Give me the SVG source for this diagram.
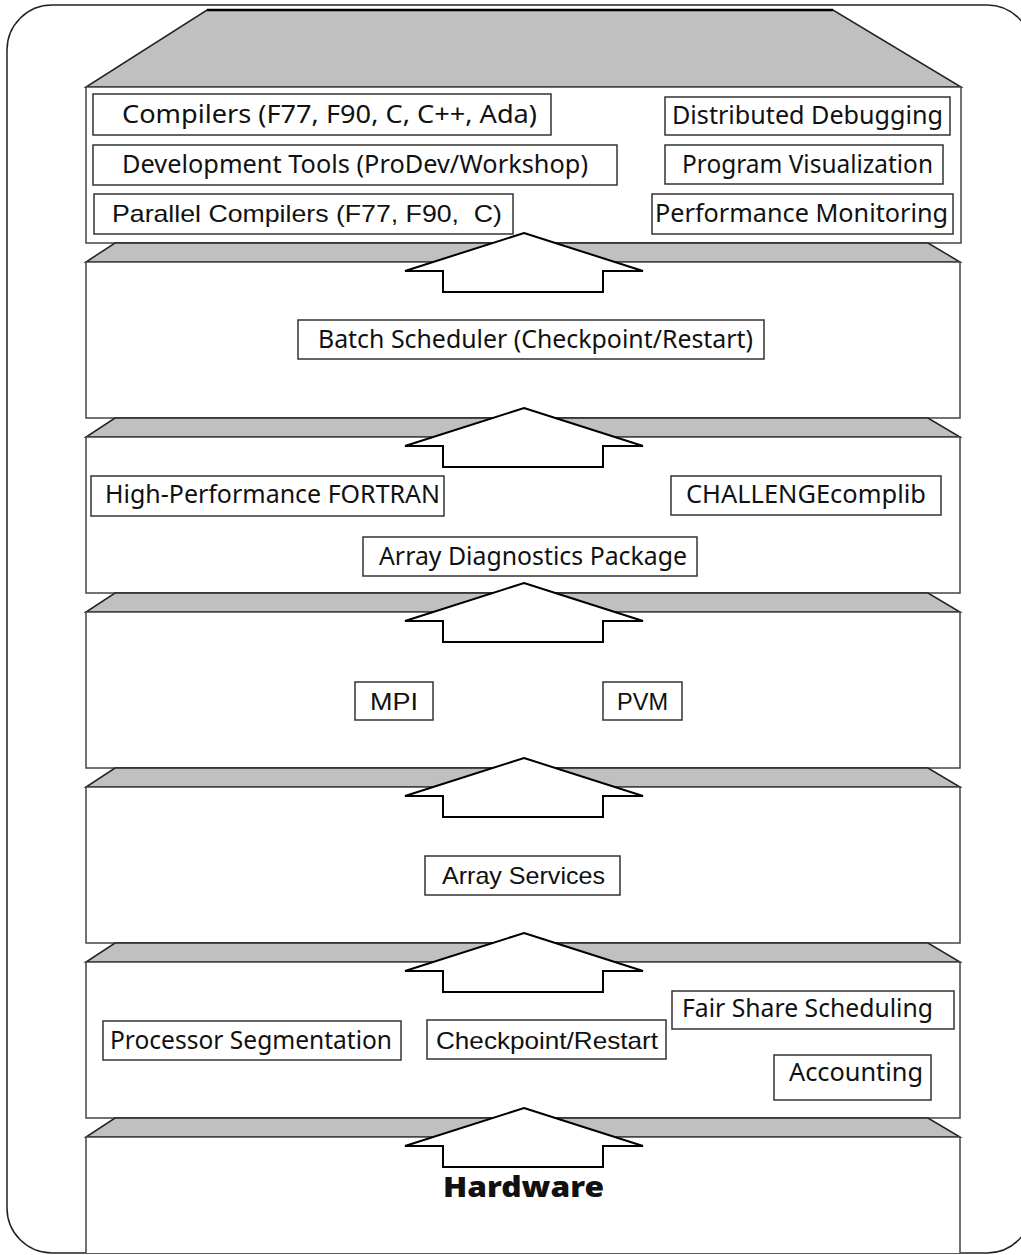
<svg xmlns="http://www.w3.org/2000/svg" width="1021" height="1255" viewBox="0 0 1021 1255">
  <style>
    .frame { fill: #ffffff; stroke: #222222; stroke-width: 1.5; }
    .band { fill: #c0c0c0; stroke: #222222; stroke-width: 1.5; stroke-linejoin: miter; }
    .box { fill: #ffffff; stroke: #444444; stroke-width: 1.5; }
    .side { fill: none; stroke: #444444; stroke-width: 1.5; }
    .lbl { fill: #ffffff; stroke: #333333; stroke-width: 1.5; }
    .t { font-family: "Noto Sans", "Open Sans", "DejaVu Sans", sans-serif; font-size: 25.5px; fill: #111111; }
    .a { font-family: "Liberation Sans", Arial, sans-serif; font-size: 24px; fill: #111111; white-space: pre; }
    .hw { font-family: "Noto Sans", "DejaVu Sans", sans-serif; font-size: 28px; font-weight: 900; fill: #111111; }
    .up { fill: #ffffff; stroke: #000000; stroke-width: 2; stroke-linejoin: miter; }
  </style>
  <defs>
    <!-- one up-arrow, positioned with a translate per layer boundary -->
    <polygon id="uparrow" class="up" points="524,-10 643,28 603,28 603,49 443,49 443,28 405,28"/>
  </defs>

  <!-- outer rounded frame -->
  <rect class="frame" x="7" y="5" width="1025" height="1248" rx="45" ry="45"/>

  <!-- layer 1: development environment (top) -->
  <g id="layer-tools">
    <polygon class="band" points="207,10 833,10 961,87 86,87"/>
    <line x1="207" y1="10" x2="833" y2="10" stroke="#000000" stroke-width="2.5"/>
    <rect class="box" x="86" y="87" width="875" height="156"/>
  </g>
  <!-- layer 2: batch scheduling -->
  <g id="layer-batch">
    <polygon class="band" points="115,243 928,243 960,262 86,262"/>
    <rect class="box" x="86" y="262" width="874" height="156"/>
  </g>
  <!-- layer 3: libraries -->
  <g id="layer-libs">
    <polygon class="band" points="115,418 928,418 960,437 86,437"/>
    <rect class="box" x="86" y="437" width="874" height="156"/>
  </g>
  <!-- layer 4: message passing -->
  <g id="layer-msg">
    <polygon class="band" points="115,593 928,593 960,612 86,612"/>
    <rect class="box" x="86" y="612" width="874" height="156"/>
  </g>
  <!-- layer 5: array services -->
  <g id="layer-array">
    <polygon class="band" points="115,768 928,768 960,787 86,787"/>
    <rect class="box" x="86" y="787" width="874" height="156"/>
  </g>
  <!-- layer 6: kernel services -->
  <g id="layer-kernel">
    <polygon class="band" points="115,943 928,943 960,962 86,962"/>
    <rect class="box" x="86" y="962" width="874" height="156"/>
  </g>
  <!-- layer 7: hardware (open at the bottom) -->
  <g id="layer-hardware">
    <polygon class="band" points="115,1118 928,1118 960,1137 86,1137"/>
    <rect x="86" y="1137" width="874" height="116" fill="#ffffff"/>
    <path class="side" d="M86,1137 H960 M86,1137 V1253 M960,1137 V1253"/>
    <text class="hw" x="443" y="1197" textLength="161" lengthAdjust="spacingAndGlyphs">Hardware</text>
  </g>

  <!-- component boxes -->
  <g id="compilers">
    <rect class="lbl" x="93" y="94" width="458" height="41"/>
    <text class="t" x="122" y="123" textLength="415" lengthAdjust="spacingAndGlyphs">Compilers (F77, F90, C, C++, Ada)</text>
  </g>
  <g id="dev-tools">
    <rect class="lbl" x="93" y="145" width="524" height="40"/>
    <text class="t" x="122" y="173" textLength="466" lengthAdjust="spacingAndGlyphs">Development Tools (ProDev/Workshop)</text>
  </g>
  <g id="parallel-compilers">
    <rect class="lbl" x="94" y="194" width="419" height="40"/>
    <text class="a" x="112" y="222" textLength="390" lengthAdjust="spacingAndGlyphs">Parallel Compilers (F77, F90,  C)</text>
  </g>
  <g id="distributed-debugging">
    <rect class="lbl" x="665" y="97" width="285" height="38"/>
    <text class="t" x="672" y="124" textLength="271" lengthAdjust="spacingAndGlyphs">Distributed Debugging</text>
  </g>
  <g id="program-visualization">
    <rect class="lbl" x="665" y="145" width="278" height="39"/>
    <text class="t" x="682" y="173" textLength="251" lengthAdjust="spacingAndGlyphs">Program Visualization</text>
  </g>
  <g id="performance-monitoring">
    <rect class="lbl" x="652" y="194" width="301" height="40"/>
    <text class="t" x="655" y="222" textLength="293" lengthAdjust="spacingAndGlyphs">Performance Monitoring</text>
  </g>
  <g id="batch-scheduler">
    <rect class="lbl" x="298" y="320" width="466" height="39"/>
    <text class="t" x="318" y="348" textLength="435" lengthAdjust="spacingAndGlyphs">Batch Scheduler (Checkpoint/Restart)</text>
  </g>
  <g id="hpf">
    <rect class="lbl" x="91" y="476" width="353" height="40"/>
    <text class="t" x="105" y="503" textLength="335" lengthAdjust="spacingAndGlyphs">High-Performance FORTRAN</text>
  </g>
  <g id="complib">
    <rect class="lbl" x="671" y="476" width="270" height="39"/>
    <text class="t" x="686" y="503" textLength="240" lengthAdjust="spacingAndGlyphs">CHALLENGEcomplib</text>
  </g>
  <g id="array-diagnostics">
    <rect class="lbl" x="363" y="537" width="334" height="39"/>
    <text class="t" x="379" y="565" textLength="308" lengthAdjust="spacingAndGlyphs">Array Diagnostics Package</text>
  </g>
  <g id="mpi">
    <rect class="lbl" x="355" y="682" width="78" height="38"/>
    <text class="a" x="370" y="710" textLength="48" lengthAdjust="spacingAndGlyphs">MPI</text>
  </g>
  <g id="pvm">
    <rect class="lbl" x="603" y="682" width="79" height="38"/>
    <text class="a" x="617" y="710" textLength="51" lengthAdjust="spacingAndGlyphs">PVM</text>
  </g>
  <g id="array-services">
    <rect class="lbl" x="425" y="856" width="195" height="39"/>
    <text class="a" x="442" y="884" textLength="163" lengthAdjust="spacingAndGlyphs">Array Services</text>
  </g>
  <g id="processor-segmentation">
    <rect class="lbl" x="103" y="1021" width="298" height="39"/>
    <text class="t" x="110" y="1049" textLength="282" lengthAdjust="spacingAndGlyphs">Processor Segmentation</text>
  </g>
  <g id="checkpoint-restart">
    <rect class="lbl" x="427" y="1020" width="239" height="39"/>
    <text class="a" x="436" y="1049" textLength="222" lengthAdjust="spacingAndGlyphs">Checkpoint/Restart</text>
  </g>
  <g id="fair-share">
    <rect class="lbl" x="672" y="991" width="282" height="38"/>
    <text class="t" x="682" y="1017" textLength="251" lengthAdjust="spacingAndGlyphs">Fair Share Scheduling</text>
  </g>
  <g id="accounting">
    <rect class="lbl" x="774" y="1055" width="157" height="45"/>
    <text class="t" x="789" y="1081" textLength="134" lengthAdjust="spacingAndGlyphs">Accounting</text>
  </g>

  <!-- upward arrows between layers -->
  <g id="connectors">
    <use href="#uparrow" transform="translate(0,243)"/>
    <use href="#uparrow" transform="translate(0,418)"/>
    <use href="#uparrow" transform="translate(0,593)"/>
    <use href="#uparrow" transform="translate(0,768)"/>
    <use href="#uparrow" transform="translate(0,943)"/>
    <use href="#uparrow" transform="translate(0,1118)"/>
  </g>
</svg>
